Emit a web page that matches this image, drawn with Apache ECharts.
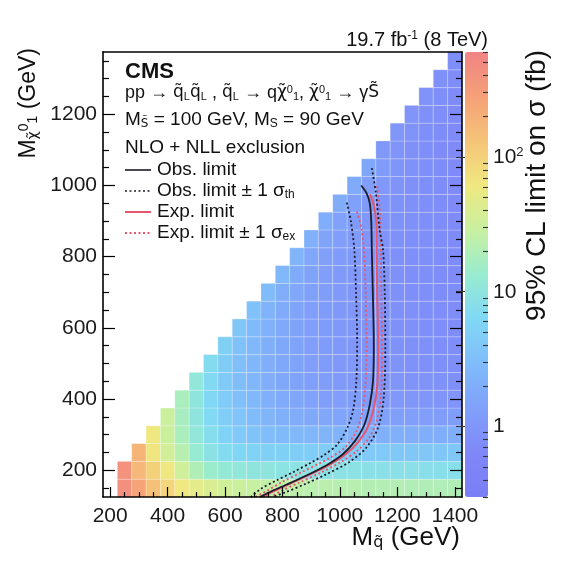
<!DOCTYPE html>
<html><head><meta charset="utf-8">
<script src="https://cdn.jsdelivr.net/npm/echarts@6/dist/echarts.min.js"></script>
<style>html,body{margin:0;padding:0;background:#fff;}#c{width:583px;height:580px;}</style>
</head><body><div id="c"></div>
<script>
// ---------- data ----------
const squarkMass = [250,300,350,400,450,500,550,600,650,700,750,800,850,900,950,1000,1050,1100,1150,1200,1250,1300,1350,1400];
const neutralinoMass = [150,200,250,300,350,400,450,500,550,600,650,700,750,800,850,900,950,1000,1050,1100,1150,1200,1250,1300,1350];
// 95% CL limit on sigma (fb); each row lists squark masses from the diagonal (or 250) up to 1400
const lim150 = [450,260,140,92,62,48,40,34,30,28,26,25,24,23,23,22,22,21,21,21,20,20,20,20];
const lim200 = [400,170,100,60,33,20,14,12,11,10,10,9.5,9.5,9,9,9,9,8.5,8.5,8.5,8.5,8,8,8];
const lim250 = [180,65,35,22,13,9,7,6,5.5,5,5,4.8,4.6,4.5,4.4,4.3,4.2,4.2,4.1,4,4,4,4];
const lim300 = [60,30,18,11,7.5,5.5,4.2,3.5,3,2.8,2.6,2.5,2.4,2.3,2.2,2.2,2.1,2.1,2,2,2,2];
const lim350 = [30,17,10,6.5,4.8,3.6,2.9,2.4,2.1,1.9,1.75,1.65,1.55,1.5,1.45,1.4,1.35,1.3,1.3,1.25,1.25];
const lim400 = [18,10,6.2,4.4,3.2,2.6,2.1,1.8,1.6,1.45,1.35,1.28,1.2,1.15,1.1,1.05,1,1,0.95,0.95];
const lim450 = [11,6.5,4.3,3.1,2.5,2,1.7,1.5,1.35,1.25,1.15,1.1,1.05,1,0.95,0.92,0.9,0.88,0.85];
const lim500 = [7,4.5,3.2,2.5,2,1.7,1.5,1.3,1.2,1.1,1.05,1,0.95,0.9,0.88,0.85,0.82,0.8];
const lim550 = [5,3.4,2.6,2.05,1.7,1.5,1.3,1.2,1.1,1.02,0.98,0.93,0.88,0.85,0.82,0.8,0.78];
const lim600 = [4,2.8,2.15,1.75,1.5,1.32,1.2,1.1,1.02,0.96,0.9,0.86,0.83,0.8,0.78,0.76];
const lim650 = [3.4,2.3,1.85,1.55,1.35,1.22,1.1,1.02,0.95,0.9,0.85,0.82,0.79,0.77,0.75];
const lim700 = [2.9,2,1.65,1.4,1.25,1.12,1.03,0.96,0.9,0.85,0.81,0.78,0.76,0.74];
const lim750 = [2.6,1.8,1.5,1.3,1.15,1.05,0.97,0.9,0.85,0.81,0.78,0.75,0.73];
const lim800 = [2.4,1.65,1.38,1.2,1.08,0.98,0.91,0.86,0.81,0.78,0.75,0.72];
const lim850 = [2.2,1.55,1.3,1.12,1,0.92,0.86,0.81,0.77,0.74,0.72];
const lim900 = [2,1.45,1.2,1.05,0.95,0.87,0.82,0.78,0.74,0.71];
const lim950 = [1.9,1.38,1.12,0.98,0.89,0.83,0.78,0.74,0.71];
const lim1000 = [1.8,1.3,1.05,0.92,0.84,0.79,0.75,0.71];
const lim1050 = [1.6,1.2,0.98,0.87,0.8,0.75,0.7];
const lim1100 = [1.1,0.95,0.85,0.78,0.73,0.7];
const lim1150 = [1,0.9,0.8,0.75,0.7];
const lim1200 = [0.95,0.85,0.78,0.72];
const lim1250 = [0.9,0.8,0.72];
const lim1300 = [0.85,0.75];
const lim1350 = [0.8];
const limitRows = [lim150,lim200,lim250,lim300,lim350,lim400,lim450,lim500,lim550,lim600,lim650,lim700,lim750,lim800,lim850,lim900,lim950,lim1000,lim1050,lim1100,lim1150,lim1200,lim1250,lim1300,lim1350];

// exclusion contours (squark mass, neutralino mass)
const obsMq   = [1074,1093,1104,1109,1111,1115,1118,1115,1104,1085,1052,1010,955,885,815,750,722];
const obsMchi = [1000,978,950,900,820,680,550,450,385,328,282,245,215,186,160,137,125];
const obsDnMq   = [1024,1038,1050,1056,1060,1057,1046,1026,990,945,900,840,780,725,690];
const obsDnMchi = [952,900,820,700,560,450,370,320,272,243,222,196,172,148,125];
const obsUpMq   = [1111,1125,1138,1150,1156,1158,1152,1132,1090,1030,950,880,810,765];
const obsUpMchi = [1049,980,876,820,700,540,400,318,262,222,188,162,138,125];
const expMq   = [1105,1118,1126,1128,1130,1133,1130,1118,1096,1062,1020,965,895,820,755,730];
const expMchi = [975,945,900,800,680,550,440,375,320,278,245,216,188,160,135,125];
const expDnMq   = [1059,1075,1085,1090,1093,1089,1077,1056,1015,965,930,865,800,745,705];
const expDnMchi = [927,880,800,680,550,440,362,308,262,235,220,194,168,142,125];
const expUpMq   = [1129,1138,1142,1144,1147,1144,1128,1102,1062,1005,935,860,795,760];
const expUpMchi = [998,940,850,700,550,420,340,292,256,224,194,166,142,125];

// tick values
const xMajorTicks = [200,400,600,800,1000,1200,1400];
const xMinorTicks = [250,300,350,450,500,550,650,700,750,850,900,950,1050,1100,1150,1250,1300,1350];
const yMajorTicks = [200,400,600,800,1000,1200];
const yMinorTicks = [150,250,300,350,450,500,550,650,700,750,850,900,950,1050,1100,1150,1250,1300,1350];
const zMajorTicks = [1,10,100];
const zMinorTicks = [0.3,0.4,0.5,0.6,0.7,0.8,0.9,2,3,4,5,6,7,8,9,20,30,40,50,60,70,80,90,200,300,400,500,600];
const zMin = 0.3, zMax = 600;

// ---------- build ----------
const cells = [];
neutralinoMass.forEach((mchi, r) => {
  const row = limitRows[r];
  const off = squarkMass.length - row.length;
  row.forEach((v, k) => cells.push([squarkMass[off + k], mchi, Math.log10(v), v]));
});
const pairs = (a, b) => a.map((v, i) => [v, b[i]]);

const FONT = "'Liberation Sans', Arial, Helvetica, sans-serif";
const GFONT = "'DejaVu Sans', 'Liberation Sans', sans-serif";
const RED = '#e4576f', BLK = '#1c1c2a';
const axisLineStyle = {color: '#000', width: 1.6};
const plain = v => String(v);
function tickAxis(extra) { return Object.assign({
  type: 'value', gridIndex: 0, z: 10, splitLine: {show: false},
  axisLine: {show: false}, axisLabel: {show: false}, axisTick: {show: false}
}, extra); }

const chart = echarts.init(document.getElementById('c'), null, {renderer: 'canvas'});
const option = {
  backgroundColor: '#fff',
  animation: false,
  grid: [
    {left: 103, top: 52, width: 359, height: 445, containLabel: false, outerBoundsMode: 'none'},
    {left: 465, top: 52, width: 23, height: 445, containLabel: false, outerBoundsMode: 'none'}
  ],
  xAxis: [
    tickAxis({min: 175, max: 1425, position: 'bottom',
      axisLine: {show: true, onZero: false, lineStyle: axisLineStyle},
      axisTick: {show: true, inside: true, length: 10, customValues: xMajorTicks, lineStyle: {color: '#000', width: 1.2}},
      axisLabel: {show: true, customValues: xMajorTicks, formatter: plain, fontSize: 21, fontFamily: FONT, color: '#1a1a1a', margin: 9, hideOverlap: false}}),
    tickAxis({min: 175, max: 1425, position: 'bottom',
      axisTick: {show: true, inside: true, length: 5, customValues: xMinorTicks, lineStyle: {color: '#000', width: 1.2}}}),
    tickAxis({min: 175, max: 1425, position: 'top',
      axisLine: {show: true, onZero: false, lineStyle: axisLineStyle}}),
    {type: 'value', gridIndex: 1, min: 0, max: 1, show: false}
  ],
  yAxis: [
    tickAxis({min: 125, max: 1375, position: 'left',
      axisLine: {show: true, onZero: false, lineStyle: axisLineStyle},
      axisTick: {show: true, inside: true, length: 12, customValues: yMajorTicks, lineStyle: {color: '#000', width: 1.2}},
      axisLabel: {show: true, customValues: yMajorTicks, formatter: plain, fontSize: 21, fontFamily: FONT, color: '#1a1a1a', margin: 6, hideOverlap: false}}),
    tickAxis({min: 125, max: 1375, position: 'left',
      axisTick: {show: true, inside: true, length: 6, customValues: yMinorTicks, lineStyle: {color: '#000', width: 1.2}}}),
    tickAxis({min: 125, max: 1375, position: 'right',
      axisLine: {show: true, onZero: false, lineStyle: axisLineStyle},
      axisTick: {show: true, inside: true, length: 12, customValues: yMajorTicks, lineStyle: {color: '#000', width: 1.2}}}),
    tickAxis({min: 125, max: 1375, position: 'right',
      axisTick: {show: true, inside: true, length: 6, customValues: yMinorTicks, lineStyle: {color: '#000', width: 1.2}}}),
    tickAxis({gridIndex: 1, min: Math.log10(zMin), max: Math.log10(zMax), position: 'right',
      axisTick: {show: true, inside: true, length: 9, customValues: zMajorTicks.map(Math.log10), lineStyle: {color: '#333', width: 1.1}},
      axisLabel: {show: true, customValues: zMajorTicks.map(Math.log10), fontSize: 21, fontFamily: FONT, color: '#1a1a1a', margin: 5, hideOverlap: false,
        formatter: v => { const p = Math.round(v); return p >= 2 ? '10{sup|' + p + '}' : String(Math.round(Math.pow(10, v))); },
        rich: {sup: {fontSize: 13, fontFamily: FONT, color: '#1a1a1a', verticalAlign: 'top', padding: [0, 0, 8, 0]}}}}),
    tickAxis({gridIndex: 1, min: Math.log10(zMin), max: Math.log10(zMax), position: 'right',
      axisTick: {show: true, inside: true, length: 5, customValues: zMinorTicks.map(Math.log10), lineStyle: {color: '#333', width: 1.1}}})
  ],
  visualMap: {
    type: 'continuous', seriesIndex: 0, dimension: 2,
    min: Math.log10(zMin), max: Math.log10(zMax),
    calculable: false, hoverLink: false, text: null, padding: 0,
    left: 465, top: 52, itemWidth: 23, itemHeight: 445,
    inRange: {color: ['#7b7ef5','#7f88f8','#80a0fa','#80bcfa','#80d8f5','#98ecd0','#c8f0a0','#f0e880','#f5c478','#f5a078','#f08484']}
  },
  series: [
    {type: 'custom', name: 'limit', xAxisIndex: 0, yAxisIndex: 0, z: 2, data: cells,
      encode: {x: 0, y: 1},
      renderItem: (params, api) => {
        const x = api.value(0), y = api.value(1);
        const p0 = api.coord([x - 25, y + 25]);
        const p1 = api.coord([x + 25, y - 25]);
        return {type: 'rect', shape: {x: p0[0], y: p0[1], width: p1[0] - p0[0], height: p1[1] - p0[1]},
          style: {fill: api.visual('color'), stroke: 'rgba(255,255,255,0.28)', lineWidth: 0.8}};
      }},
    {type: 'line', name: 'Obs. limit', data: pairs(obsMq, obsMchi), smooth: 0.3, symbol: 'none', z: 4,
      lineStyle: {color: BLK, width: 1.8}},
    {type: 'line', name: 'Obs. limit -1 sigma', data: pairs(obsDnMq, obsDnMchi), smooth: 0.3, symbol: 'none', z: 4,
      lineStyle: {color: BLK, width: 1.8, type: [2, 2.5]}},
    {type: 'line', name: 'Obs. limit +1 sigma', data: pairs(obsUpMq, obsUpMchi), smooth: 0.3, symbol: 'none', z: 4,
      lineStyle: {color: BLK, width: 1.8, type: [2, 2.5]}},
    {type: 'line', name: 'Exp. limit', data: pairs(expMq, expMchi), smooth: 0.3, symbol: 'none', z: 3,
      lineStyle: {color: RED, width: 2}},
    {type: 'line', name: 'Exp. limit -1 sigma', data: pairs(expDnMq, expDnMchi), smooth: 0.3, symbol: 'none', z: 3,
      lineStyle: {color: RED, width: 1.8, type: [2, 2.5]}},
    {type: 'line', name: 'Exp. limit +1 sigma', data: pairs(expUpMq, expUpMchi), smooth: 0.3, symbol: 'none', z: 3,
      lineStyle: {color: RED, width: 1.8, type: [2, 2.5]}}
  ],
  graphic: []
};

const txt = (x, y, text, size, extra) => ({type: 'text', x: x, y: y, z: 20,
  style: Object.assign({text: text, fontSize: size, fontFamily: FONT, fill: '#111', align: 'left', verticalAlign: 'middle',
    rich: {
      sub: {fontSize: Math.round(size * 0.62), fontFamily: FONT, fill: '#111', verticalAlign: 'bottom'},
      sup: {fontSize: Math.round(size * 0.62), fontFamily: FONT, fill: '#111', verticalAlign: 'top'},
      gsub: {fontSize: Math.round(size * 0.62), fontFamily: GFONT, fill: '#111', verticalAlign: 'bottom'},
      g: {fontSize: size * 0.95, fontFamily: GFONT, fill: '#111'},
      n: {fontSize: size, fontFamily: FONT, fill: '#111'}
    }}, extra || {})});
const seg = (x1, x2, y, color, dash, w) => ({type: 'line', z: 20, shape: {x1: x1, y1: y, x2: x2, y2: y},
  style: {stroke: color, lineWidth: w, lineDash: dash}});

option.graphic = [
  txt(125, 72, 'CMS', 22, {fontWeight: 'bold'}),
  txt(125, 93, '{n|pp → }{g|q\u0303}{sub|L}{g|q\u0303}{sub|L}{n| , }{g|q\u0303}{sub|L}{n| → q}{g|χ\u0303}{sup|0}{sub|1}{n|, }{g|χ\u0303}{sup|0}{sub|1}{n| → γ}{g|S\u0303}', 18),
  txt(125, 120, '{n|M}{gsub|S\u0303}{n| = 100 GeV, M}{sub|S}{n| = 90 GeV}', 19),
  txt(125, 148, 'NLO + NLL exclusion', 19),
  seg(125, 151, 170, BLK, null, 1.6),
  txt(157, 170, 'Obs. limit', 19),
  seg(125, 151, 191, BLK, [2, 2.5], 1.6),
  txt(157, 191, '{n|Obs. limit ± 1 σ}{sub|th}', 19),
  seg(125, 151, 212, RED, null, 2),
  txt(157, 212, 'Exp. limit', 19),
  seg(125, 151, 233, RED, [2, 2.5], 1.8),
  txt(157, 233, '{n|Exp. limit ± 1 σ}{sub|ex}', 19),
  txt(488, 40, '{n|19.7 fb}{sup|-1}{n| (8 TeV)}', 20, {align: 'right'}),
  txt(460, 538, '{n|M}{gsub|q\u0303}{n| (GeV)}', 26, {align: 'right'}),
  Object.assign(txt(40, 48, '{n|M}{gsub|χ\u0303}{sup|0}{sub|1}{n| (GeV)}', 23, {align: 'right', verticalAlign: 'bottom'}), {rotation: Math.PI / 2}),
  Object.assign(txt(551, 50, '95% CL limit on σ (fb)', 28, {align: 'right', verticalAlign: 'bottom'}), {rotation: Math.PI / 2})
];
chart.setOption(option);
</script></body></html>
